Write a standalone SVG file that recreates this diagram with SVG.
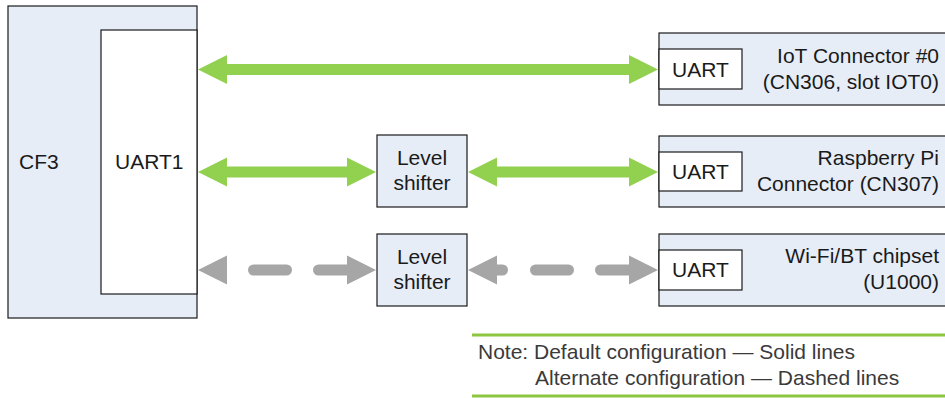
<svg xmlns="http://www.w3.org/2000/svg" width="945" height="398" viewBox="0 0 945 398">
<style>
.blk{fill:#e6edf7;stroke:#1a1a1a;stroke-width:1.2}
.wht{fill:#ffffff;stroke:#1a1a1a;stroke-width:1.2}
text{font-family:"Liberation Sans",Arial,sans-serif;font-size:21px;fill:#1a1a1a}
.r{text-anchor:end}
.c{text-anchor:middle}
.note{fill:#3a3a3a;font-size:21px}
.g{fill:#92d050}
.gr{fill:#a6a6a6}
.dash{stroke:#a6a6a6;stroke-width:11;stroke-linecap:round;fill:none}
.rule{stroke:#8dc63f;stroke-width:3}
</style>
<g id="cf3">
<rect class="blk" x="8" y="6" width="189" height="312"/>
<text x="19" y="169">CF3</text>
</g>
<g id="uart1">
<rect class="wht" x="101" y="30" width="96" height="264"/>
<text x="115" y="169">UART1</text>
</g>
<g id="iot">
<rect class="blk" x="659" y="33" width="290" height="72"/>
<rect class="wht" x="659" y="49" width="83" height="40"/>
<text x="672" y="77">UART</text>
<text class="r" x="939" y="63">IoT Connector #0</text>
<text class="r" x="939" y="89">(CN306, slot IOT0)</text>
</g>
<g id="rpi">
<rect class="blk" x="659" y="136" width="290" height="71"/>
<rect class="wht" x="659" y="152" width="83" height="39"/>
<text x="672" y="179">UART</text>
<text class="r" x="939" y="165">Raspberry Pi</text>
<text class="r" x="939" y="191">Connector (CN307)</text>
</g>
<g id="wifi">
<rect class="blk" x="659" y="234" width="290" height="72"/>
<rect class="wht" x="659" y="250" width="83" height="40"/>
<text x="672" y="277">UART</text>
<text class="r" x="939" y="263">Wi-Fi/BT chipset</text>
<text class="r" x="939" y="289">(U1000)</text>
</g>
<g id="ls1">
<rect class="blk" x="377" y="135" width="90" height="72"/>
<text class="c" x="422" y="165">Level</text>
<text class="c" x="422" y="190">shifter</text>
</g>
<g id="ls2">
<rect class="blk" x="377" y="234" width="90" height="72"/>
<text class="c" x="422" y="264">Level</text>
<text class="c" x="422" y="289">shifter</text>
</g>
<g id="connectors">
<polygon class="g" points="198,69.5 227,55 227,64 629,64 629,55 658,69.5 629,84 629,75 227,75 227,84"/>
<polygon class="g" points="198,172 227,157.5 227,166.5 347,166.5 347,157.5 376,172 347,186.5 347,177.5 227,177.5 227,186.5"/>
<polygon class="g" points="468,172 497,157.5 497,166.5 629,166.5 629,157.5 658,172 629,186.5 629,177.5 497,177.5 497,186.5"/>
<polygon class="gr" points="198,270 227,255.5 227,284.5"/>
<line class="dash" x1="253.5" y1="270" x2="286.5" y2="270"/>
<line class="dash" x1="318.5" y1="270" x2="348" y2="270"/>
<polygon class="gr" points="376,270 347,255.5 347,284.5"/>
<polygon class="gr" points="468,270 497,255.5 497,284.5"/>
<line class="dash" x1="496" y1="270" x2="502.5" y2="270"/>
<line class="dash" x1="535.5" y1="270" x2="568.5" y2="270"/>
<line class="dash" x1="600.5" y1="270" x2="630" y2="270"/>
<polygon class="gr" points="658,270 629,255.5 629,284.5"/>
</g>
<g id="note">
<line class="rule" x1="472" y1="335" x2="945" y2="335"/>
<line class="rule" x1="472" y1="396" x2="945" y2="396"/>
<text class="note" x="478" y="359">Note: Default configuration — Solid lines</text>
<text class="note" x="535" y="385">Alternate configuration — Dashed lines</text>
</g>
</svg>
